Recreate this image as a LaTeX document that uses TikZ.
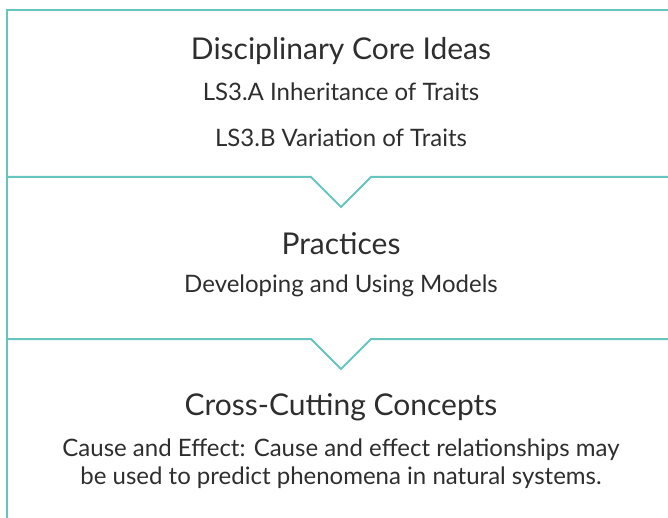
\documentclass[tikz,border=0pt]{standalone}
\usepackage{fontspec}
\setmainfont{Lato}
\definecolor{teal}{HTML}{67C5C0}
\definecolor{ink}{HTML}{2E2E2E}
\begin{document}
\begin{tikzpicture}[x=1pt,y=-1pt,
    frame/.style={draw=teal,line width=2pt},
    head/.style={text=ink,font=\fontsize{30}{34}\selectfont,inner sep=0pt},
    body/.style={text=ink,font=\fontsize{24}{28}\selectfont,inner sep=0pt,align=center}]
  \useasboundingbox (0,0) rectangle (668,518);
  \draw[frame] (670,10) -- (7,10) -- (7,520);
  \draw[frame] (7,177) -- (311,177) -- (341,207) -- (371,177) -- (670,177);
  \draw[frame] (7,339) -- (311,339) -- (341,369) -- (371,339) -- (670,339);
  \node[head] (dci) at (341,51) {Disciplinary Core Ideas};
  \node[body] (ls3a) at (341,92) {LS3.A Inheritance of Traits};
  \node[body] (ls3b) at (341,138) {LS3.B Variation of Traits};
  \node[head] (prac) at (341,244) {Practices};
  \node[body] (dev) at (341,286) {Developing and Using Models};
  \node[head] (ccc) at (341,407) {Cross-Cutting Concepts};
  \node[body] (cause) at (341,464) {Cause and Effect: Cause and effect relationships may\\be used to predict phenomena in natural systems.};
\end{tikzpicture}
\end{document}
